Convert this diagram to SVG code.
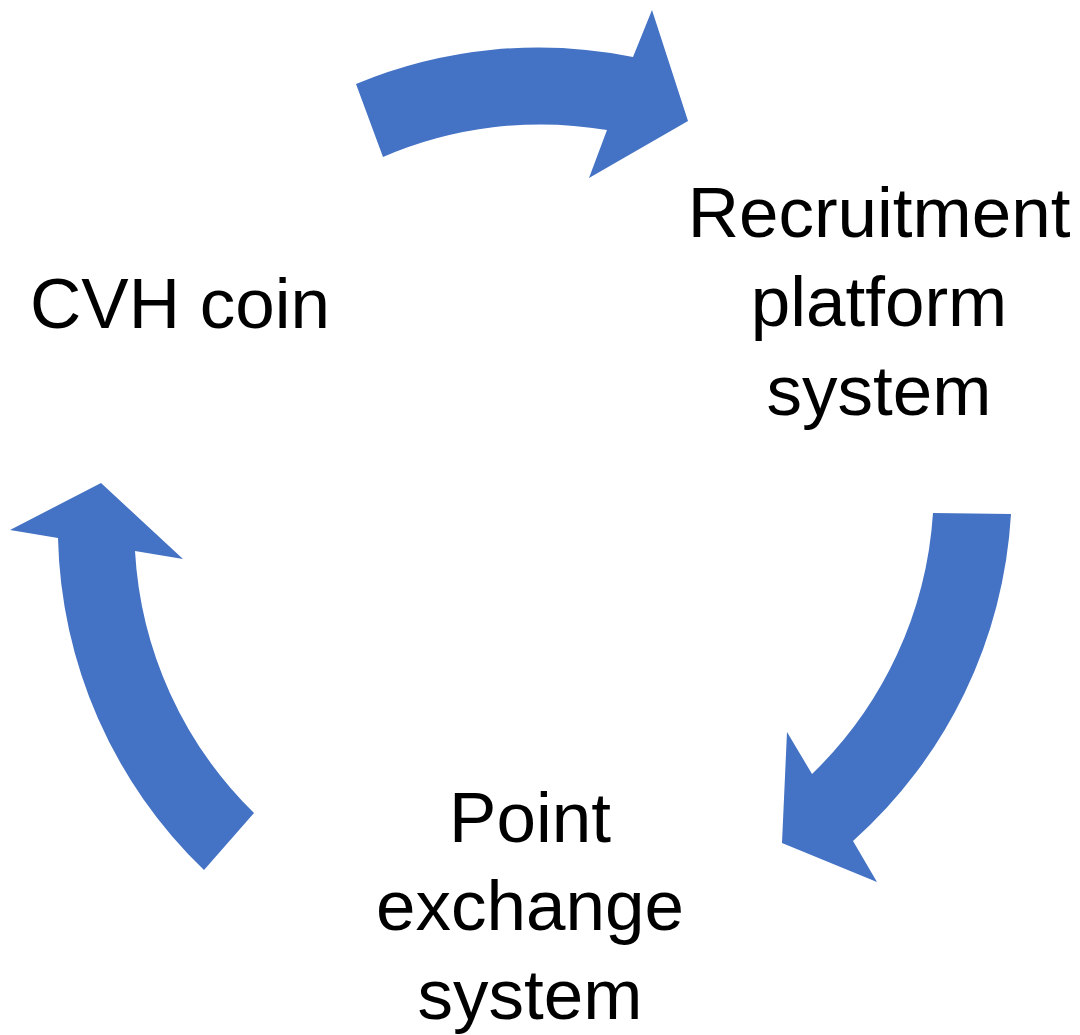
<svg xmlns="http://www.w3.org/2000/svg" width="1080" height="1035" viewBox="0 0 1080 1035">
<style>
.arrow{fill:#4472C4;stroke:none}
.lbl{font-family:"Liberation Sans",Arial,sans-serif;font-size:71px;fill:#000;text-anchor:middle}
</style>
<rect width="1080" height="1035" fill="#fff"/>
<g id="connectors">
<path id="arrow-top" class="arrow" d="M356,84 A475,475 0 0 1 633,57 L652,10 L688,121 L589,178 L607,130 A398,398 0 0 0 383,157 Z"/>
<path id="arrow-right" class="arrow" d="M933,513 L1011,514 A475,475 0 0 1 853,841 L877,882 L782,843 L787,732 L812,774 A398,398 0 0 0 933,513 Z"/>
<path id="arrow-left" class="arrow" d="M204,870 L254,813 A398,398 0 0 1 135,551 L183,559 L101,483 L10,530 L58,538 A475,475 0 0 0 204,870 Z"/>
</g>
<g id="node-cvh">
<text class="lbl" x="180" y="328">CVH coin</text>
</g>
<g id="node-recruitment">
<text class="lbl" x="879" y="237">Recruitment</text>
<text class="lbl" x="879" y="326">platform</text>
<text class="lbl" x="879" y="415">system</text>
</g>
<g id="node-point">
<text class="lbl" x="530" y="842">Point</text>
<text class="lbl" x="530" y="930">exchange</text>
<text class="lbl" x="530" y="1019">system</text>
</g>
</svg>
